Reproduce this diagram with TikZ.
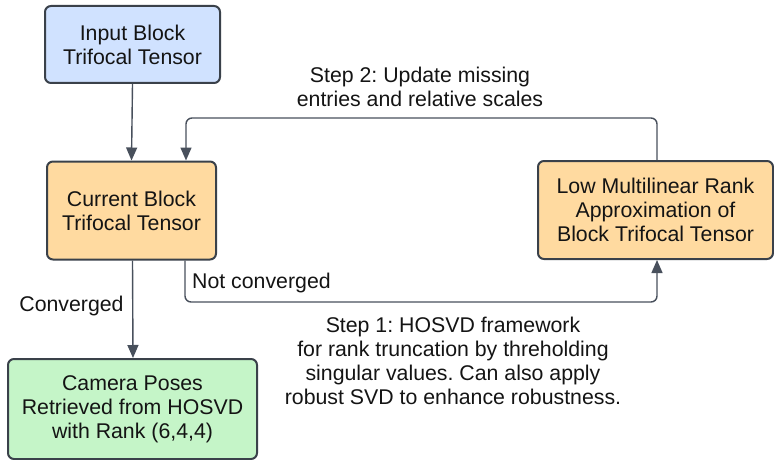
\documentclass[tikz,border=0pt]{standalone}
\usepackage{fontspec}
\setmainfont{Liberation Sans}
\usetikzlibrary{arrows.meta}
\frenchspacing
\definecolor{bluefill}{RGB}{208,226,255}
\definecolor{orangefill}{RGB}{255,218,160}
\definecolor{greenfill}{RGB}{197,245,200}
\definecolor{edge}{RGB}{58,65,74}
\definecolor{wire}{RGB}{72,80,92}
\definecolor{txt}{RGB}{20,20,20}
\begin{document}
\begin{tikzpicture}[x=1pt,y=-1pt,
  every node/.style={font=\fontsize{21.3}{24}\selectfont\frenchspacing, text=txt},
  box/.style={draw=edge, line width=2pt, rounded corners=6pt, align=center, inner sep=0pt},
  conn/.style={draw=wire, line width=1.4pt, -{Triangle[width=11pt,length=13pt]}},
  lbl/.style={align=center, inner sep=0pt}]
\useasboundingbox (0,0) rectangle (774,460);
\node[box, fill=bluefill, minimum width=175pt, minimum height=77pt] (input) at (132.5,44.5) {Input Block\\Trifocal Tensor};
\node[box, fill=orangefill, minimum width=169pt, minimum height=98pt] (current) at (131.5,210.5) {Current Block\\Trifocal Tensor};
\node[box, fill=orangefill, minimum width=235pt, minimum height=98pt] (low) at (655.5,210) {Low Multilinear Rank\\Approximation of\\Block Trifocal Tensor};
\node[box, fill=greenfill, minimum width=249pt, minimum height=100pt] (camera) at (132.5,409) {Camera Poses\\Retrieved from HOSVD\\with Rank (6,4,4)};
\coordinate (t1) at (657,118);
\coordinate (t2) at (186,118);
\coordinate (b1) at (185,302);
\coordinate (b2) at (657,302);
\draw[conn] (input.south) -- (current.north);
\draw[conn] ([xshift=1pt]current.south) -- ([xshift=0.5pt]camera.north);
\draw[conn, rounded corners=6pt] (low.north -| t1) -- (t1) -- (t2) -- (current.north -| t2);
\draw[conn, rounded corners=6pt] (current.south -| b1) -- (b1) -- (b2) -- (low.south -| b2);
\node[lbl] (step2) at (420,86.5) {Step 2: Update missing\\entries and relative scales};
\node[lbl, anchor=west] (nc) at (192,283) {Not converged};
\node[lbl] (conv) at (71.5,306) {Converged};
\node[lbl] (step1) at (453,361) {Step 1: HOSVD framework\\for rank truncation by threholding\\singular values. Can also apply\\robust SVD to enhance robustness.};
\end{tikzpicture}
\end{document}
